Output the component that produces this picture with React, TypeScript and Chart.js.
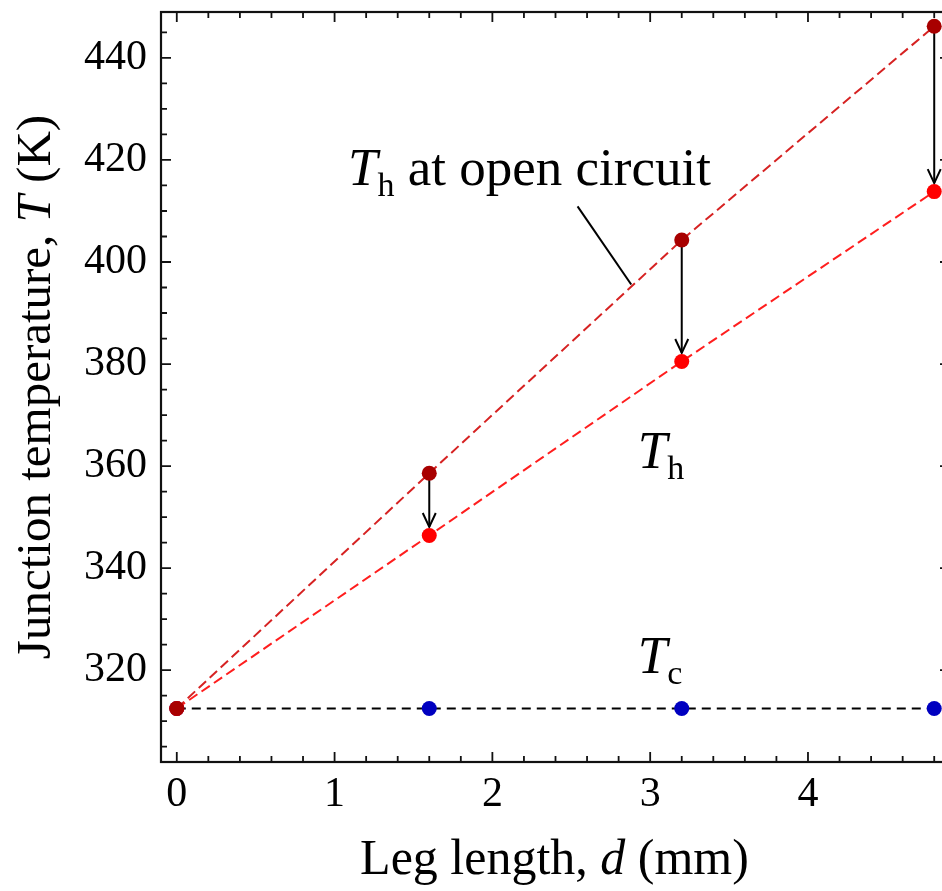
import React, { useEffect, useRef } from 'react';
import { Chart, registerables } from 'chart.js';

Chart.register(...registerables);

// ---- data ----
const legLength = [0, 1.6, 3.2, 4.8];              // mm
const thOpenCircuit = [312.5, 358.6, 404.3, 446.2]; // K, T_h at open circuit
const thLoaded = [312.5, 346.4, 380.5, 413.8];      // K, T_h
const tCold = [312.5, 312.5, 312.5, 312.5];         // K, T_c
const xTickValues = [0, 1, 2, 3, 4];
const yTickValues = [320, 340, 360, 380, 400, 420, 440];

// annotation anchors in data coordinates
const openLabelAt = { x: 1.085, y: 415.0 };
const openLeader = { x1: 2.54, y1: 410.9, x2: 2.88, y2: 395.6 };
const thLabelAt = { x: 2.922, y: 359.7 };
const tcLabelAt = { x: 2.922, y: 319.4 };

const SERIF = '"Liberation Serif", "Times New Roman", serif';
const POINT_R = 7.5;

type Part = { t: string; italic?: boolean; sub?: boolean };

function partFont(p: Part, size: number, subSize: number) {
  return `${p.italic ? 'italic ' : ''}${p.sub ? subSize : size}px ${SERIF}`;
}

function measureParts(ctx: CanvasRenderingContext2D, parts: Part[], size: number, subSize: number) {
  let w = 0;
  for (const p of parts) {
    ctx.font = partFont(p, size, subSize);
    w += ctx.measureText(p.t).width;
  }
  return w;
}

function drawParts(ctx: CanvasRenderingContext2D, parts: Part[], x: number, y: number, size: number, subSize: number, subDy: number) {
  let cx = x;
  ctx.textAlign = 'left';
  ctx.textBaseline = 'alphabetic';
  for (const p of parts) {
    ctx.font = partFont(p, size, subSize);
    ctx.fillText(p.t, cx, p.sub ? y + subDy : y);
    cx += ctx.measureText(p.t).width;
  }
}

const framePlugin = {
  id: 'frameTicks',
  afterDatasetsDraw(chart: any) {
    const { ctx, chartArea: a, scales } = chart;
    const xs = scales.x;
    const ys = scales.y;
    ctx.save();
    ctx.strokeStyle = '#111';
    ctx.lineWidth = 2.2;
    ctx.strokeRect(a.left, a.top, a.right - a.left, a.bottom - a.top);
    ctx.lineWidth = 1.8;
    ctx.beginPath();
    for (let i = 0; i <= 24; i++) {
      const v = i * 0.2;
      const len = i % 5 === 0 ? 10 : 6;
      const px = xs.getPixelForValue(v);
      ctx.moveTo(px, a.bottom);
      ctx.lineTo(px, a.bottom - len);
      ctx.moveTo(px, a.top);
      ctx.lineTo(px, a.top + len);
    }
    for (let v = 305; v <= 445; v += 5) {
      const len = v % 20 === 0 ? 10 : 6;
      const py = ys.getPixelForValue(v);
      ctx.moveTo(a.left, py);
      ctx.lineTo(a.left + len, py);
      ctx.moveTo(a.right, py);
      ctx.lineTo(a.right - len, py);
    }
    ctx.stroke();
    ctx.restore();
  },
};

const arrowPlugin = {
  id: 'arrows',
  beforeDatasetsDraw(chart: any) {
    const { ctx, scales } = chart;
    const xs = scales.x;
    const ys = scales.y;
    ctx.save();
    ctx.strokeStyle = '#000';
    ctx.lineWidth = 2;
    for (let i = 0; i < legLength.length; i++) {
      if (thOpenCircuit[i] - thLoaded[i] < 1) continue;
      const x = xs.getPixelForValue(legLength[i]);
      const y1 = ys.getPixelForValue(thOpenCircuit[i]);
      const y2 = ys.getPixelForValue(thLoaded[i]) - POINT_R - 1;
      ctx.beginPath();
      ctx.moveTo(x, y1);
      ctx.lineTo(x, y2);
      ctx.stroke();
      ctx.beginPath();
      ctx.moveTo(x - 6.5, y2 - 14);
      ctx.lineTo(x, y2);
      ctx.lineTo(x + 6.5, y2 - 14);
      ctx.stroke();
    }
    ctx.restore();
  },
};

const textPlugin = {
  id: 'texts',
  afterDraw(chart: any) {
    const { ctx, chartArea: a, scales } = chart;
    const xs = scales.x;
    const ys = scales.y;
    ctx.save();
    ctx.fillStyle = '#000';

    // leader line
    ctx.strokeStyle = '#000';
    ctx.lineWidth = 2;
    ctx.beginPath();
    ctx.moveTo(xs.getPixelForValue(openLeader.x1), ys.getPixelForValue(openLeader.y1));
    ctx.lineTo(xs.getPixelForValue(openLeader.x2), ys.getPixelForValue(openLeader.y2));
    ctx.stroke();

    // annotations
    drawParts(ctx, [{ t: 'T', italic: true }, { t: 'h', sub: true }, { t: ' at open circuit' }],
      xs.getPixelForValue(openLabelAt.x), ys.getPixelForValue(openLabelAt.y), 53, 34, 11);
    drawParts(ctx, [{ t: 'T', italic: true }, { t: 'h', sub: true }],
      xs.getPixelForValue(thLabelAt.x), ys.getPixelForValue(thLabelAt.y), 53, 34, 11);
    drawParts(ctx, [{ t: 'T', italic: true }, { t: 'c', sub: true }],
      xs.getPixelForValue(tcLabelAt.x), ys.getPixelForValue(tcLabelAt.y), 53, 34, 11);

    // x title
    const xParts: Part[] = [{ t: 'Leg length, ' }, { t: 'd', italic: true }, { t: ' (mm)' }];
    const xw = measureParts(ctx, xParts, 50, 34);
    drawParts(ctx, xParts, (a.left + a.right) / 2 - xw / 2 - 1, a.bottom + 112, 50, 34, 0);

    // y title
    const yParts: Part[] = [{ t: 'Junction temperature, ' }, { t: 'T', italic: true }, { t: ' (K)' }];
    const yw = measureParts(ctx, yParts, 49, 34);
    ctx.translate(50, (a.top + a.bottom) / 2);
    ctx.rotate(-Math.PI / 2);
    drawParts(ctx, yParts, -yw / 2, 0, 49, 34, 0);
    ctx.restore();
  },
};

export default function App() {
  const ref = useRef<HTMLCanvasElement | null>(null);

  useEffect(() => {
    if (!ref.current) return;
    const pts = (ys: number[]) => legLength.map((x, i) => ({ x, y: ys[i] }));
    const chart = new Chart(ref.current, {
      type: 'scatter',
      data: {
        datasets: [
          {
            label: 'Th open circuit',
            data: pts(thOpenCircuit),
            showLine: true,
            borderColor: 'rgb(214, 34, 34)',
            borderWidth: 2,
            borderDash: [10, 5],
            pointRadius: POINT_R,
            pointBackgroundColor: '#a80000',
            pointBorderWidth: 0,
            tension: 0,
          },
          {
            label: 'Th',
            data: pts(thLoaded),
            showLine: true,
            borderColor: 'rgb(255, 30, 30)',
            borderWidth: 2,
            borderDash: [10, 5],
            pointRadius: POINT_R,
            pointBackgroundColor: '#ff0000',
            pointBorderWidth: 0,
            tension: 0,
          },
          {
            label: 'Tc',
            data: pts(tCold),
            showLine: true,
            borderColor: '#000',
            borderWidth: 2,
            borderDash: [9, 6],
            pointRadius: POINT_R,
            pointBackgroundColor: '#0000c0',
            pointBorderWidth: 0,
            tension: 0,
          },
        ],
      },
      options: {
        responsive: false,
        animation: false,
        layout: { padding: { top: 12, right: 10, left: 0, bottom: 0 } },
        plugins: { legend: { display: false }, tooltip: { enabled: false } },
        scales: {
          x: {
            type: 'linear',
            min: -0.1,
            max: 4.9,
            grid: { display: false, drawTicks: false },
            border: { display: false },
            afterBuildTicks: (s: any) => { s.ticks = xTickValues.map((v) => ({ value: v })); },
            afterFit: (s: any) => { s.height = 129; s.paddingLeft = 0; s.paddingRight = 0; },
            ticks: {
              font: { family: SERIF, size: 42 },
              color: '#000',
              padding: 8,
              maxRotation: 0,
              autoSkip: false,
              callback: (v: any) => String(v),
            },
          },
          y: {
            type: 'linear',
            min: 302,
            max: 449,
            grid: { display: false, drawTicks: false },
            border: { display: false },
            afterBuildTicks: (s: any) => { s.ticks = yTickValues.map((v) => ({ value: v })); },
            afterFit: (s: any) => { s.width = 161; s.paddingTop = 0; s.paddingBottom = 0; },
            ticks: {
              font: { family: SERIF, size: 42 },
              color: '#000',
              padding: 14,
              autoSkip: false,
              callback: (v: any) => String(v),
            },
          },
        },
      },
      plugins: [arrowPlugin, framePlugin, textPlugin],
    });
    return () => chart.destroy();
  }, []);

  return (
    <div style={{ position: 'absolute', left: 0, top: 0, width: 942, height: 891, overflow: 'hidden', background: '#fff' }}>
      <canvas ref={ref} width={960} height={891} style={{ display: 'block' }} />
    </div>
  );
}
